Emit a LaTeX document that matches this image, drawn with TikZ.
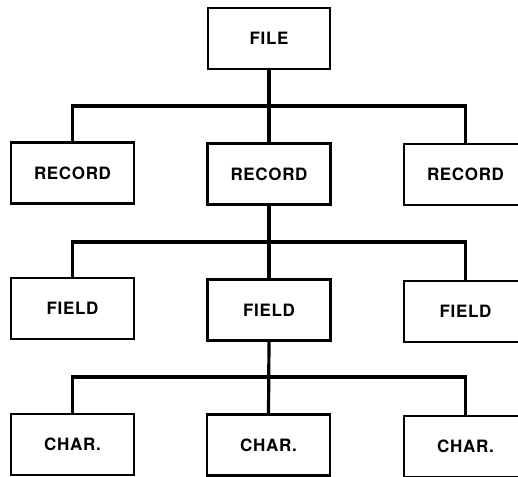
\documentclass[tikz,border=0pt]{standalone}
\usepackage{fontspec}
\setmainfont{TeX Gyre Heros}[LetterSpace=4]
\begin{document}
\begin{tikzpicture}[x=1pt,y=-1pt,
  box/.style={draw,line width=2.2pt,minimum width=123pt,minimum height=61pt,inner sep=0pt,
    font=\fontsize{17}{20}\selectfont\bfseries},
  conn/.style={line width=3.2pt}]
\useasboundingbox (0,0) rectangle (518,476);
\clip (0,0) rectangle (518,476);
\node[box,minimum width=122pt] (file) at (269,38.5) {FILE};
\node[box] (rec1) at (72.5,173) {RECORD};
\node[box] (rec2) at (269,174) {RECORD};
\node[box] (rec3) at (465.5,174.5) {RECORD};
\node[box] (fld1) at (72.5,308.5) {FIELD};
\node[box] (fld2) at (269,310) {FIELD};
\node[box] (fld3) at (465.5,311.5) {FIELD};
\node[box] (chr1) at (72.5,444.5) {CHAR.};
\node[box] (chr2) at (268.5,445) {CHAR.};
\node[box] (chr3) at (465.5,446.5) {CHAR.};
\coordinate (b1) at (269,106);
\coordinate (b2) at (269,242);
\coordinate (b3) at (269,377);
\draw[conn] (file.south) -- (rec2.north);
\draw[conn] (rec1.north) |- (b1) -| (rec3.north);
\draw[conn] (rec2.south) -- (fld2.north);
\draw[conn] (fld1.north) |- (b2) -| (fld3.north);
\draw[conn] (fld2.south) -- (chr2.north);
\draw[conn] (chr1.north) |- (b3) -| (chr3.north);
\end{tikzpicture}
\end{document}
